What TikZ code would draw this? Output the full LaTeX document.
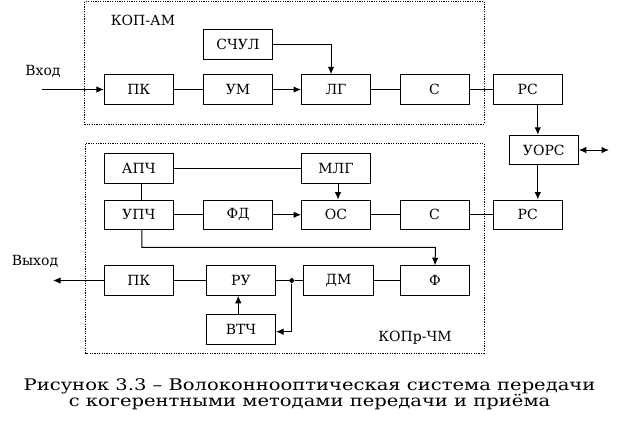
\documentclass[tikz,border=0pt]{standalone}
\usepackage{fontspec}
\setmainfont{DejaVu Serif}
\newfontfamily\capfont[FakeStretch=1.22]{DejaVu Serif}
\usetikzlibrary{arrows.meta,shapes.geometric}
\begin{document}
\begin{tikzpicture}[x=1pt,y=-1pt,
  blk/.style={draw,line width=1pt,minimum width=69pt,minimum height=29.5pt,inner sep=0pt,font=\fontsize{14}{15}\selectfont},
  ln/.style={line width=1pt},
  arr/.style={line width=1pt,-{Latex[length=7.5pt,width=6.5pt]}},
  arrb/.style={line width=1pt,{Latex[length=7.5pt,width=6.5pt]}-{Latex[length=7.5pt,width=6.5pt]}},
  grp/.style={line width=0.9pt,dash pattern=on 1.2pt off 1.2pt},
  lbl/.style={font=\fontsize{14}{15}\selectfont,inner sep=0pt},
  captxt/.style={font=\capfont\fontsize{16}{16}\selectfont,inner sep=0pt,anchor=base}]
\useasboundingbox (0,0) rectangle (619,426);
% group frames
\draw[grp] (84.5,1.5) rectangle (484,124);
\draw[grp] (85.5,143.5) rectangle (484,353);
\node[lbl] (kopam) at (143,20) {КОП-АМ};
\node[lbl] (kopr) at (415,338) {КОПр-ЧМ};
% transmitter
\node[blk] (schul) at (238,44.5) {СЧУЛ};
\node[blk] (pk1) at (138.8,89.5) {ПК};
\node[blk] (um) at (238,89.5) {УМ};
\node[blk] (lg) at (336,89.5) {ЛГ};
\node[blk] (c1) at (434.5,89.5) {С};
\node[blk] (rs1) at (527.8,89.5) {РС};
\node[blk] (uors) at (543.8,150) {УОРС};
% receiver
\node[blk] (apch) at (138.8,168.3) {АПЧ};
\node[blk] (mlg) at (336,168.3) {МЛГ};
\node[blk] (upch) at (138.8,214.8) {УПЧ};
\node[blk] (fd) at (238,214.8) {ФД};
\node[blk] (os) at (336,214.8) {ОС};
\node[blk] (c2) at (434.5,214.8) {С};
\node[blk] (rs2) at (527.8,214.8) {РС};
\node[blk] (pk2) at (138.8,280.5) {ПК};
\node[blk] (ru) at (241,280.5) {РУ};
\node[blk,minimum width=70.5pt] (dm) at (338.5,280.5) {ДМ};
\node[blk] (f) at (435,280.5) {Ф};
\node[blk] (vtch) at (241,329.7) {ВТЧ};
% texts
\node[lbl] (vhod) at (43,71) {Вход};
\node[lbl] (vyhod) at (35,261.5) {Выход};
\coordinate (inp) at (42,89.5);
\coordinate (outp) at (53,280.5);
\coordinate (ext) at (609,150);
\coordinate (bend) at (435.5,247.3);
\node[diamond,fill,inner sep=0pt,minimum size=6pt] (j) at (291.7,280.5) {};
% transmitter connections
\draw[arr] (inp) -- (pk1);
\draw[ln] (pk1) -- (um);
\draw[arr] (um) -- (lg);
\draw[arr] (schul.east) -| ([xshift=-5pt]lg.north);
\draw[ln] (lg) -- (c1);
\draw[ln] (c1) -- (rs1);
\draw[arr] ([xshift=10pt]rs1.south) -- ([xshift=10pt]rs1.south |- uors.north);
\draw[arrb] (uors.east) -- (ext);
\draw[arr] ([xshift=10pt]rs1.south |- uors.south) -- ([xshift=10pt]rs2.north);
% receiver connections
\draw[ln] (apch) -- (mlg);
\draw[ln] ([xshift=3pt]apch.south) -- ([xshift=3pt]upch.north);
\draw[arr] ([xshift=2pt]mlg.south) -- ([xshift=2pt]os.north);
\draw[ln] (upch) -- (fd);
\draw[arr] (fd) -- (os);
\draw[ln] (os) -- (c2);
\draw[ln] (c2) -- (rs2);
\draw[arr] ([xshift=3pt]upch.south) |- (bend) -- (f.north);
\draw[arr] (pk2) -- (outp);
\draw[ln] (pk2) -- (ru);
\draw[ln] (ru) -- (j) -- (dm);
\draw[ln] (dm) -- (f);
\draw[arr] (j) |- ([yshift=-2pt]vtch.east);
\draw[arr] ([xshift=-2.7pt]vtch.north) -- ([xshift=-2.7pt]ru.south);
% caption
\node[captxt] (cap1) at (309.5,390) {Рисунок 3.3 – Волоконнооптическая система передачи};
\node[captxt] (cap2) at (309.5,406.5) {с когерентными методами передачи и приёма};
\end{tikzpicture}
\end{document}
